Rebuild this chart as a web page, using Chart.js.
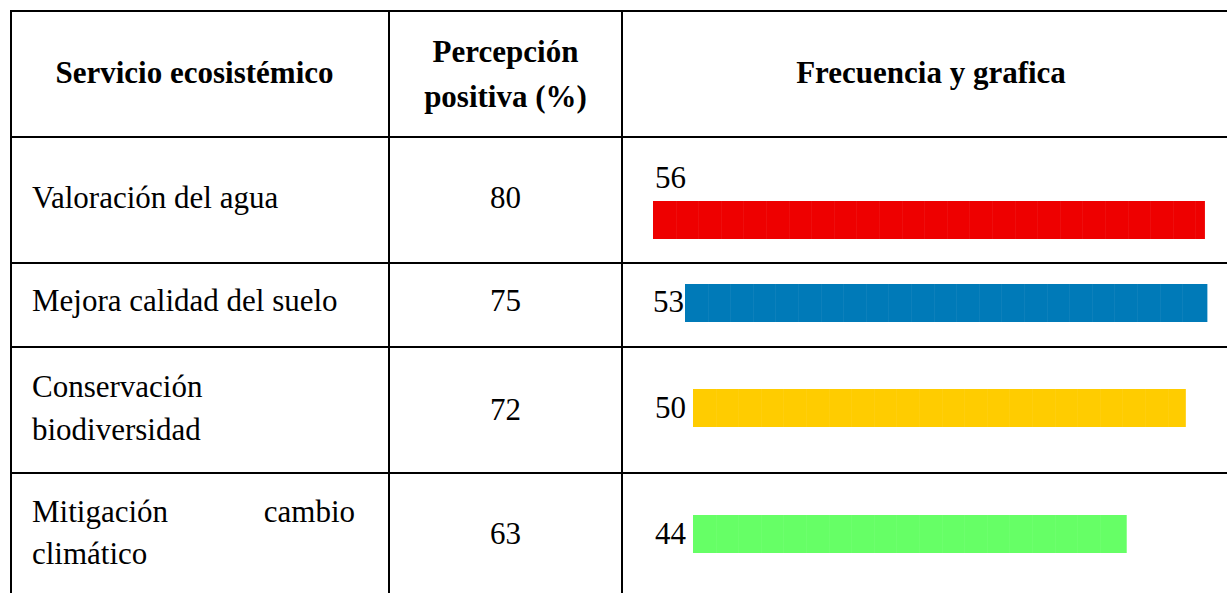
<!DOCTYPE html>
<html>
<head>
<meta charset="utf-8">
<script src="https://cdn.jsdelivr.net/npm/chart.js@4/dist/chart.umd.min.js"></script>
<style>
  html, body { margin: 0; padding: 0; background: #ffffff; }
  #wrap { position: relative; width: 1227px; height: 593px; overflow: hidden; background: #fff; }
  .ln { position: absolute; background: #000; }
  .tx { position: absolute; white-space: nowrap; font-family: "Liberation Serif", "Times New Roman", serif; font-size: 31px; line-height: 40px; height: 40px; color: #000; }
  .b { font-weight: bold; }
  canvas.bar { position: absolute; }
</style>
</head>
<body>
<div id="wrap"></div>
<script>
// ---------- DATA ----------
const headers = ["Servicio ecosistémico", "Percepción positiva (%)", "Frecuencia y grafica"];
const serviceLines = [
  ["Valoración del agua"],
  ["Mejora calidad del suelo"],
  ["Conservación", "biodiversidad"],
  ["Mitigación cambio", "climático"]
];
const perception = [80, 75, 72, 63];
const frequency = [56, 53, 50, 44];

// ---------- STYLE / LAYOUT ----------
const barColors = ["#EE0000", "#007AB8", "#FFCC00", "#66FF66"];
const xMax = 60;            // common value axis for every bar
const axisWidth = 591;      // pixels spanned by 0..xMax
const barLeft = [653, 685, 693, 693];
const barTop = [201, 284, 389, 515];
const barHeight = 38;
const textBaseline = [208, 311, 420, 544];
const serviceBaselines = [[208], [311], [397, 440], [522, 564]];
const labelPos = [ {x: 655, base: 188, align: "left"}, {x: 684, base: 312, align: "right"},
                   {x: 686, base: 418, align: "right"}, {x: 686, base: 544, align: "right"} ];

const wrap = document.getElementById("wrap");
const S = 31, L = 40;
const baseOff = (L - 1.107 * S) / 2 + 0.891 * S;

function line(x, y, w, h) {
  const d = document.createElement("div");
  d.className = "ln";
  d.style.left = x + "px"; d.style.top = y + "px";
  d.style.width = w + "px"; d.style.height = h + "px";
  wrap.appendChild(d);
}
function text(str, x, baseline, align, bold) {
  const d = document.createElement("div");
  d.className = "tx" + (bold ? " b" : "");
  d.textContent = str;
  d.style.top = (baseline - baseOff) + "px";
  if (align === "center") { d.style.left = (x - 500) + "px"; d.style.width = "1000px"; d.style.textAlign = "center"; }
  else if (align === "right") { d.style.left = (x - 1000) + "px"; d.style.width = "1000px"; d.style.textAlign = "right"; }
  else { d.style.left = x + "px"; }
  wrap.appendChild(d);
}

// table grid
[10, 136, 262, 346, 472].forEach(y => line(10, y, 1240, 2));
[10, 388, 621].forEach(x => line(x, 10, 2, 600));

// headers
text(headers[0], 194.5, 83, "center", true);
text("Percepción", 505.5, 62, "center", true);
text("positiva (%)", 505.5, 107, "center", true);
text(headers[2], 931, 83, "center", true);

// service names
serviceLines.forEach((lines, i) => {
  lines.forEach((ln, j) => {
    const b = serviceBaselines[i][j];
    if (i === 3 && j === 0) {
      const parts = ln.split(" ");
      text(parts[0], 32, b, "left");
      text(parts[1], 355, b, "right");
    } else {
      text(ln, 32, b, "left");
    }
  });
});

// perception values
perception.forEach((v, i) => text(String(v), 505.5, textBaseline[i], "center"));

// frequency labels
frequency.forEach((v, i) => text(String(v), labelPos[i].x, labelPos[i].base, labelPos[i].align));

// very faint segment lines to mimic the tiled bars
const segPlugin = {
  id: "segments",
  afterDatasetsDraw(chart) {
    const ctx = chart.ctx;
    const meta = chart.getDatasetMeta(0);
    meta.data.forEach(el => {
      const x0 = Math.min(el.base, el.x), x1 = Math.max(el.base, el.x);
      const top = el.y - el.height / 2, bot = el.y + el.height / 2;
      ctx.save();
      ctx.strokeStyle = "rgba(255,255,255,0.05)";
      ctx.lineWidth = 1;
      for (let x = x0 + 22.6; x < x1 - 4; x += 22.6) {
        ctx.beginPath();
        ctx.moveTo(Math.round(x) + 0.5, top);
        ctx.lineTo(Math.round(x) + 0.5, bot);
        ctx.stroke();
      }
      ctx.restore();
    });
  }
};

// bars, one Chart.js horizontal bar chart per row
frequency.forEach((v, i) => {
  const c = document.createElement("canvas");
  c.className = "bar";
  c.width = axisWidth; c.height = barHeight;
  c.style.left = barLeft[i] + "px"; c.style.top = barTop[i] + "px";
  c.style.width = axisWidth + "px"; c.style.height = barHeight + "px";
  wrap.appendChild(c);
  new Chart(c, {
    type: "bar",
    data: {
      labels: [serviceLines[i].join(" ")],
      datasets: [{
        data: [v],
        backgroundColor: barColors[i],
        borderWidth: 0,
        barPercentage: 1,
        categoryPercentage: 1
      }]
    },
    options: {
      indexAxis: "y",
      responsive: false,
      animation: false,
      devicePixelRatio: 1,
      layout: { padding: 0 },
      scales: {
        x: { display: false, min: 0, max: xMax },
        y: { display: false }
      },
      plugins: { legend: { display: false }, tooltip: { enabled: false } }
    },
    plugins: [segPlugin]
  });
});
</script>
</body>
</html>
